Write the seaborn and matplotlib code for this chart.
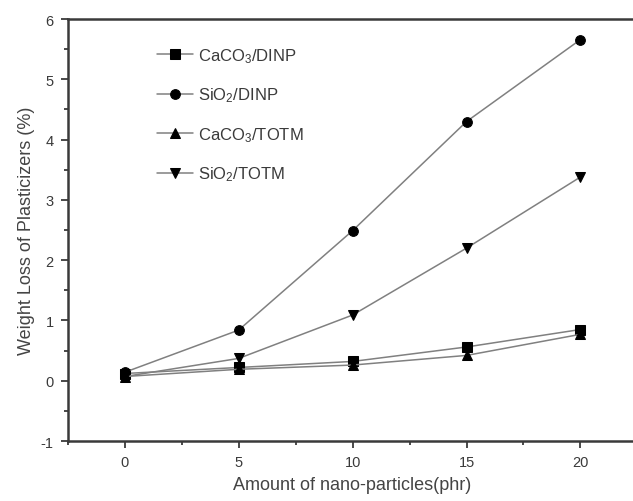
import numpy as np
import pandas as pd
import seaborn as sns
import matplotlib.pyplot as plt
from matplotlib.ticker import MultipleLocator

# values
amount = [0, 5, 10, 15, 20]
caco3_dinp = [0.12, 0.22, 0.32, 0.56, 0.85]
sio2_dinp = [0.14, 0.84, 2.49, 4.30, 5.66]
caco3_totm = [0.07, 0.19, 0.26, 0.42, 0.77]
sio2_totm = [0.07, 0.37, 1.09, 2.20, 3.38]

labels = ['CaCO$_3$/DINP', 'SiO$_2$/DINP', 'CaCO$_3$/TOTM', 'SiO$_2$/TOTM']
series = [caco3_dinp, sio2_dinp, caco3_totm, sio2_totm]

df = pd.DataFrame({
    'amount': amount * 4,
    'loss': sum(series, []),
    'sample': [lab for lab in labels for _ in amount],
})

sns.set_style('ticks')
plt.rcParams['font.family'] = ['Liberation Sans', 'DejaVu Sans']
plt.rcParams['mathtext.fontset'] = 'custom'
plt.rcParams['mathtext.rm'] = 'Liberation Sans'
plt.rcParams['mathtext.it'] = 'Liberation Sans'
plt.rcParams['axes.unicode_minus'] = False

fig = plt.figure(figsize=(6.33, 5.02), dpi=100)
ax = fig.add_axes([0.107, 0.1195, 0.900, 0.8405])

markers = {labels[0]: 's', labels[1]: 'o', labels[2]: '^', labels[3]: 'v'}
sns.lineplot(data=df, x='amount', y='loss', hue='sample', style='sample',
             markers=markers, dashes=False, palette=['#808080'] * 4,
             markersize=7, linewidth=1.1, ax=ax, legend=True)

# markers black, lines gray
for line in ax.get_lines():
    line.set_markerfacecolor('black')
    line.set_markeredgecolor('black')

ax.set_xlim(-2.5, 22.5)
ax.set_ylim(-1, 6)
ax.xaxis.set_major_locator(MultipleLocator(5))
ax.xaxis.set_minor_locator(MultipleLocator(2.5))
ax.yaxis.set_major_locator(MultipleLocator(1))
ax.yaxis.set_minor_locator(MultipleLocator(0.5))
ax.tick_params(which='major', direction='out', length=5, width=1.3,
               labelsize=10.5, colors='#3a3a3a', pad=5)
ax.tick_params(which='minor', direction='out', length=3, width=1.3,
               colors='#3a3a3a')

for side in ['left', 'bottom', 'top', 'right']:
    ax.spines[side].set_linewidth(1.8)
    ax.spines[side].set_color('#3a3a3a')

ax.set_xlabel('Amount of nano-particles(phr)', fontsize=13, color='#444444',
              labelpad=5)
ax.set_ylabel('Weight Loss of Plasticizers (%)', fontsize=13, color='#444444',
              labelpad=4)

handles, _ = ax.get_legend_handles_labels()
for h in handles:
    h.set_markerfacecolor('black')
    h.set_markeredgecolor('black')
ax.legend(handles, labels, loc='upper left', bbox_to_anchor=(0.13, 0.972),
          frameon=False, fontsize=12, handlelength=2.2, handletextpad=0.3,
          labelspacing=1.25, labelcolor='#3a3a3a')

fig.savefig('out.png', dpi=100)
